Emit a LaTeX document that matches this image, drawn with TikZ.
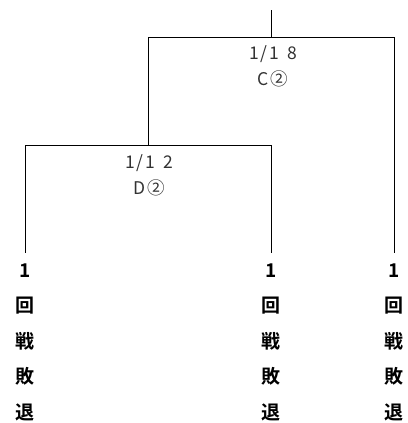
\documentclass[tikz,border=0pt]{standalone}
\usepackage{fontspec}
\newfontfamily\jp{Noto Sans CJK JP}[BoldFont={Noto Sans CJK JP Bold}]
\begin{document}
\begin{tikzpicture}[x=1pt,y=-1pt,
  line/.style={draw=black,line width=0.9pt},
  score/.style={font=\jp\fontsize{17.5}{26}\selectfont,text=black!80,inner sep=0pt,align=center},
  leaf/.style={font=\jp\bfseries\fontsize{19}{35.5}\selectfont,text=black,inner xsep=0pt,inner ysep=10.5pt,align=center,anchor=north}]
\useasboundingbox (0,0) rectangle (407,423);
\coordinate (top) at (271,10);
\coordinate (j1) at (271,37);
\coordinate (l1) at (148,37);
\coordinate (r1) at (394,37);
\coordinate (j2) at (148,145);
\coordinate (l2) at (25,145);
\coordinate (r2) at (271,145);
\node[leaf] (leafA) at (25,253) {1\\回\\戦\\敗\\退};
\node[leaf] (leafB) at (271,253) {1\\回\\戦\\敗\\退};
\node[leaf] (leafC) at (394,253) {1\\回\\戦\\敗\\退};
\node[score] (s1) at (273,66.5) {1\kern2pt/\kern2pt1\kern8pt8\\C\kern2pt②};
\node[score] (s2) at (149,175) {1\kern2pt/\kern2pt1\kern8pt2\\D\kern2pt②};
\draw[line] (top) -- (j1);
\draw[line] (l1) -- (r1);
\draw[line] (l1) -- (j2);
\draw[line] (l2) -- (r2);
\draw[line] (l2) -- (leafA.north);
\draw[line] (r2) -- (leafB.north);
\draw[line] (r1) -- (leafC.north);
\end{tikzpicture}
\end{document}
